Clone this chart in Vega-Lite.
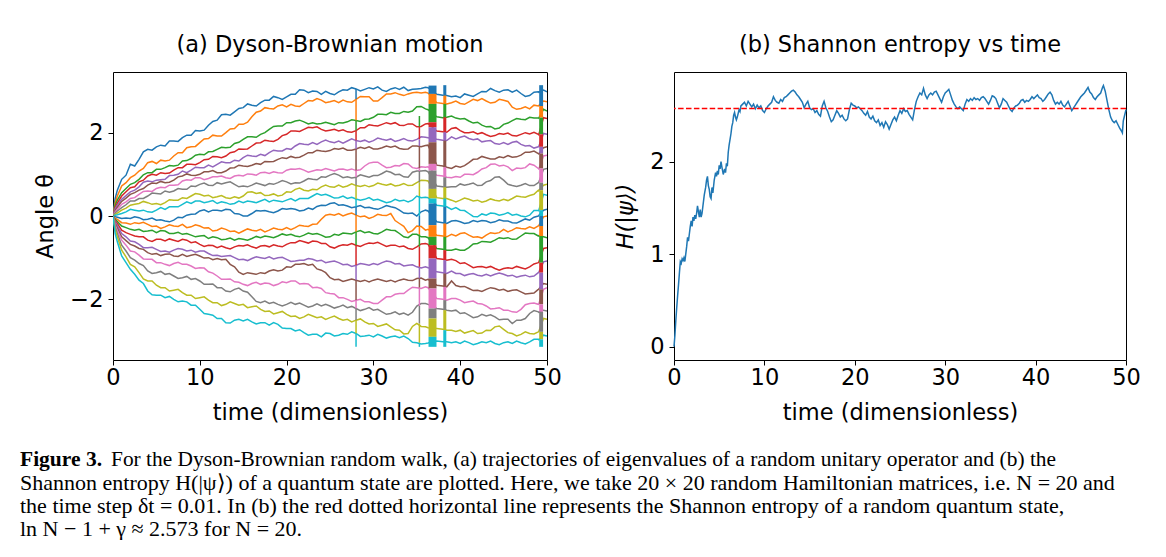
{
  "$schema": "https://vega.github.io/schema/vega-lite/v6.json",
  "background": "white",
  "padding": {"left": 20, "top": 33, "right": 5, "bottom": 0},
  "config": {
    "view": {"stroke": "black", "strokeWidth": 1},
    "axis": {"domain": false, "grid": false, "ticks": true, "tickColor": "black", "tickSize": 5, "tickWidth": 1,
             "labelFont": "DejaVu Sans", "labelFontSize": 22.5, "labelColor": "black",
             "labelFlush": false, "labelOverlap": false, "format": "d",
             "titleFont": "DejaVu Sans", "titleFontSize": 22.5, "titleFontWeight": "normal", "titleColor": "black"},
    "axisX": {"labelPadding": 1, "titlePadding": 13},
    "axisY": {"labelPadding": 5, "titlePadding": 12},
    "title": {"font": "DejaVu Sans", "fontSize": 22.5, "fontWeight": "normal", "color": "black", "offset": 15.5}
  },
  "datasets": {
    "traj": [
      {"time":0,"a":0,"b":0,"c":0,"d":0,"e":0,"f":0,"g":0,"h":0,"i":0,"j":0,"k":0,"l":0,"m":0,"n":0,"o":0,"p":0,"q":0,"r":0,"s":0,"t":0},
      {"time":0.25,"a":0.42,"b":0.32,"c":0.26,"d":0.21,"e":0.17,"f":0.13,"g":0.10,"h":0.07,"i":0.04,"j":0.02,"k":-0.02,"l":-0.05,"m":-0.08,"n":-0.11,"o":-0.14,"p":-0.18,"q":-0.22,"r":-0.27,"s":-0.33,"t":-0.42},
      {"time":0.5,"a":0.62,"b":0.48,"c":0.38,"d":0.31,"e":0.26,"f":0.21,"g":0.16,"h":0.12,"i":0.07,"j":0.03,"k":-0.03,"l":-0.08,"m":-0.13,"n":-0.18,"o":-0.23,"p":-0.29,"q":-0.35,"r":-0.42,"s":-0.50,"t":-0.62},
      {"time":1,"a":0.88,"b":0.72,"c":0.56,"d":0.48,"e":0.40,"f":0.35,"g":0.28,"h":0.20,"i":0.14,"j":0.06,"k":-0.06,"l":-0.16,"m":-0.24,"n":-0.34,"o":-0.42,"p":-0.50,"q":-0.58,"r":-0.70,"s":-0.82,"t":-0.96},
      {"time":1.5,"a":0.98,"b":0.80,"c":0.66,"d":0.58,"e":0.49,"f":0.43,"g":0.34,"h":0.27,"i":0.19,"j":0.10,"k":-0.05,"l":-0.17,"m":-0.28,"n":-0.40,"o":-0.50,"p":-0.59,"q":-0.70,"r":-0.84,"s":-0.98,"t":-1.12},
      {"time":2,"a":1.24,"b":0.92,"c":0.76,"d":0.68,"e":0.58,"f":0.52,"g":0.42,"h":0.36,"i":0.26,"j":0.16,"k":-0.06,"l":-0.20,"m":-0.32,"n":-0.44,"o":-0.60,"p":-0.68,"q":-0.84,"r":-1.00,"s":-1.16,"t":-1.28},
      {"time":2.5,"a":1.20,"b":0.98,"c":0.80,"d":0.70,"e":0.62,"f":0.56,"g":0.44,"h":0.36,"i":0.28,"j":0.14,"k":-0.02,"l":-0.16,"m":-0.34,"n":-0.48,"o":-0.62,"p":-0.72,"q":-0.86,"r":-1.06,"s":-1.22,"t":-1.40},
      {"time":3,"a":1.36,"b":1.08,"c":0.88,"d":0.82,"e":0.70,"f":0.62,"g":0.52,"h":0.42,"i":0.30,"j":0.12,"k":-0.04,"l":-0.18,"m":-0.32,"n":-0.50,"o":-0.68,"p":-0.78,"q":-0.94,"r":-1.14,"s":-1.36,"t":-1.54},
      {"time":3.5,"a":1.54,"b":1.14,"c":0.99,"d":0.86,"e":0.81,"f":0.66,"g":0.59,"h":0.42,"i":0.35,"j":0.14,"k":-0.09,"l":-0.15,"m":-0.37,"n":-0.50,"o":-0.76,"p":-0.80,"q":-1.03,"r":-1.19,"s":-1.51,"t":-1.62},
      {"time":4,"a":1.60,"b":1.28,"c":1.04,"d":0.96,"e":0.84,"f":0.74,"g":0.60,"h":0.48,"i":0.32,"j":0.10,"k":-0.08,"l":-0.20,"m":-0.36,"n":-0.58,"o":-0.76,"p":-0.88,"q":-1.04,"r":-1.32,"s":-1.56,"t":-1.80},
      {"time":4.5,"a":1.58,"b":1.31,"c":1.04,"d":1.00,"e":0.82,"f":0.79,"g":0.59,"h":0.55,"i":0.28,"j":0.09,"k":-0.05,"l":-0.25,"m":-0.34,"n":-0.61,"o":-0.75,"p":-0.92,"q":-1.04,"r":-1.38,"s":-1.56,"t":-1.89},
      {"time":5,"a":1.66,"b":1.26,"c":1.12,"d":0.98,"e":0.86,"f":0.78,"g":0.66,"h":0.54,"i":0.30,"j":0.14,"k":-0.10,"l":-0.24,"m":-0.40,"n":-0.56,"o":-0.80,"p":-0.90,"q":-1.12,"r":-1.36,"s":-1.66,"t":-1.90},
      {"time":5.5,"a":1.70,"b":1.34,"c":1.12,"d":1.04,"e":0.87,"f":0.83,"g":0.69,"h":0.53,"i":0.27,"j":0.20,"k":-0.09,"l":-0.30,"m":-0.35,"n":-0.56,"o":-0.85,"p":-0.95,"q":-1.12,"r":-1.33,"s":-1.72,"t":-1.90},
      {"time":6,"a":1.68,"b":1.32,"c":1.16,"d":1.02,"e":0.88,"f":0.80,"g":0.68,"h":0.60,"i":0.32,"j":0.16,"k":-0.12,"l":-0.26,"m":-0.36,"n":-0.60,"o":-0.84,"p":-0.92,"q":-1.16,"r":-1.40,"s":-1.72,"t":-1.96},
      {"time":6.5,"a":1.80,"b":1.34,"c":1.21,"d":1.03,"e":0.97,"f":0.81,"g":0.74,"h":0.57,"i":0.39,"j":0.22,"k":-0.14,"l":-0.21,"m":-0.42,"n":-0.55,"o":-0.87,"p":-0.91,"q":-1.19,"r":-1.38,"s":-1.80,"t":-1.93},
      {"time":7,"a":1.80,"b":1.44,"c":1.20,"d":1.10,"e":0.98,"f":0.86,"g":0.74,"h":0.60,"i":0.38,"j":0.22,"k":-0.10,"l":-0.24,"m":-0.42,"n":-0.58,"o":-0.82,"p":-0.96,"q":-1.14,"r":-1.44,"s":-1.78,"t":-2.00},
      {"time":7.5,"a":1.79,"b":1.52,"c":1.22,"d":1.16,"e":1.00,"f":0.94,"g":0.75,"h":0.66,"i":0.38,"j":0.22,"k":-0.03,"l":-0.25,"m":-0.39,"n":-0.61,"o":-0.78,"p":-0.97,"q":-1.11,"r":-1.50,"s":-1.76,"t":-2.06},
      {"time":8,"a":1.88,"b":1.52,"c":1.32,"d":1.16,"e":1.08,"f":0.96,"g":0.84,"h":0.64,"i":0.44,"j":0.28,"k":-0.04,"l":-0.20,"m":-0.44,"n":-0.56,"o":-0.80,"p":-0.92,"q":-1.16,"r":-1.48,"s":-1.84,"t":-2.04},
      {"time":8.5,"a":1.94,"b":1.64,"c":1.33,"d":1.24,"e":1.04,"f":1.01,"g":0.87,"h":0.64,"i":0.42,"j":0.34,"k":0.02,"l":-0.28,"m":-0.42,"n":-0.58,"o":-0.84,"p":-0.97,"q":-1.16,"r":-1.45,"s":-1.90,"t":-2.06},
      {"time":9,"a":1.94,"b":1.66,"c":1.38,"d":1.24,"e":1.10,"f":0.98,"g":0.86,"h":0.72,"i":0.48,"j":0.30,"k":0.04,"l":-0.26,"m":-0.46,"n":-0.64,"o":-0.82,"p":-0.94,"q":-1.20,"r":-1.52,"s":-1.90,"t":-2.14},
      {"time":9.5,"a":2.05,"b":1.67,"c":1.46,"d":1.23,"e":1.17,"f":0.97,"g":0.92,"h":0.71,"i":0.54,"j":0.36,"k":0.05,"l":-0.21,"m":-0.50,"n":-0.62,"o":-0.87,"p":-0.92,"q":-1.26,"r":-1.50,"s":-1.98,"t":-2.14},
      {"time":10,"a":2.04,"b":1.76,"c":1.48,"d":1.28,"e":1.16,"f":1.00,"g":0.92,"h":0.76,"i":0.52,"j":0.36,"k":0.12,"l":-0.24,"m":-0.48,"n":-0.68,"o":-0.84,"p":-0.96,"q":-1.24,"r":-1.56,"s":-1.96,"t":-2.24},
      {"time":10.5,"a":2.06,"b":1.85,"c":1.47,"d":1.35,"e":1.16,"f":1.06,"g":0.87,"h":0.79,"i":0.48,"j":0.32,"k":0.15,"l":-0.29,"m":-0.47,"n":-0.73,"o":-0.84,"p":-1.01,"q":-1.25,"r":-1.64,"s":-1.94,"t":-2.34},
      {"time":11,"a":2.18,"b":1.86,"c":1.54,"d":1.36,"e":1.22,"f":1.06,"g":0.90,"h":0.74,"i":0.50,"j":0.34,"k":0.10,"l":-0.28,"m":-0.54,"n":-0.70,"o":-0.90,"p":-1.00,"q":-1.34,"r":-1.64,"s":-2.02,"t":-2.36},
      {"time":11.5,"a":2.27,"b":1.94,"c":1.55,"d":1.43,"e":1.18,"f":1.09,"g":0.94,"h":0.73,"i":0.44,"j":0.37,"k":0.14,"l":-0.36,"m":-0.50,"n":-0.71,"o":-0.95,"p":-1.05,"q":-1.37,"r":-1.63,"s":-2.08,"t":-2.38},
      {"time":12,"a":2.30,"b":1.92,"c":1.60,"d":1.42,"e":1.24,"f":1.04,"g":0.94,"h":0.80,"i":0.46,"j":0.30,"k":0.14,"l":-0.34,"m":-0.52,"n":-0.76,"o":-0.94,"p":-1.02,"q":-1.44,"r":-1.72,"s":-2.08,"t":-2.46},
      {"time":12.5,"a":2.43,"b":1.92,"c":1.65,"d":1.40,"e":1.30,"f":1.04,"g":0.96,"h":0.77,"i":0.49,"j":0.34,"k":0.12,"l":-0.29,"m":-0.57,"n":-0.72,"o":-0.97,"p":-1.05,"q":-1.52,"r":-1.72,"s":-2.15,"t":-2.46},
      {"time":13,"a":2.44,"b":2.00,"c":1.64,"d":1.44,"e":1.28,"f":1.08,"g":0.92,"h":0.80,"i":0.44,"j":0.32,"k":0.16,"l":-0.32,"m":-0.56,"n":-0.76,"o":-0.96,"p":-1.04,"q":-1.52,"r":-1.80,"s":-2.12,"t":-2.56},
      {"time":13.5,"a":2.42,"b":2.09,"c":1.65,"d":1.52,"e":1.28,"f":1.15,"g":0.90,"h":0.82,"i":0.42,"j":0.28,"k":0.15,"l":-0.37,"m":-0.53,"n":-0.79,"o":-0.95,"p":-1.16,"q":-1.51,"r":-1.82,"s":-2.06,"t":-2.57},
      {"time":14,"a":2.50,"b":2.10,"c":1.74,"d":1.54,"e":1.34,"f":1.16,"g":0.96,"h":0.76,"i":0.46,"j":0.30,"k":0.06,"l":-0.36,"m":-0.58,"n":-0.74,"o":-1.00,"p":-1.22,"q":-1.58,"r":-1.76,"s":-2.10,"t":-2.50},
      {"time":14.5,"a":2.58,"b":2.20,"c":1.77,"d":1.61,"e":1.32,"f":1.22,"g":0.98,"h":0.70,"i":0.43,"j":0.36,"k":0.05,"l":-0.41,"m":-0.54,"n":-0.71,"o":-1.05,"p":-1.35,"q":-1.59,"r":-1.73,"s":-2.14,"t":-2.48},
      {"time":15,"a":2.60,"b":2.20,"c":1.84,"d":1.60,"e":1.40,"f":1.20,"g":0.96,"h":0.72,"i":0.48,"j":0.32,"k":0.00,"l":-0.36,"m":-0.56,"n":-0.72,"o":-1.04,"p":-1.40,"q":-1.64,"r":-1.80,"s":-2.12,"t":-2.52},
      {"time":15.5,"a":2.69,"b":2.25,"c":1.90,"d":1.61,"e":1.46,"f":1.19,"g":1.01,"h":0.70,"i":0.57,"j":0.36,"k":0.00,"l":-0.31,"m":-0.58,"n":-0.69,"o":-1.07,"p":-1.36,"q":-1.67,"r":-1.83,"s":-2.20,"t":-2.48},
      {"time":16,"a":2.66,"b":2.38,"c":1.90,"d":1.68,"e":1.44,"f":1.22,"g":1.00,"h":0.74,"i":0.58,"j":0.34,"k":0.06,"l":-0.34,"m":-0.54,"n":-0.74,"o":-1.02,"p":-1.38,"q":-1.62,"r":-1.94,"s":-2.18,"t":-2.54},
      {"time":16.5,"a":2.64,"b":2.49,"c":1.89,"d":1.75,"e":1.43,"f":1.26,"g":0.98,"h":0.79,"i":0.54,"j":0.32,"k":0.13,"l":-0.36,"m":-0.49,"n":-0.77,"o":-0.98,"p":-1.40,"q":-1.59,"r":-2.05,"s":-2.16,"t":-2.59},
      {"time":17,"a":2.72,"b":2.52,"c":1.96,"d":1.76,"e":1.48,"f":1.24,"g":1.04,"h":0.76,"i":0.56,"j":0.36,"k":0.12,"l":-0.32,"m":-0.52,"n":-0.72,"o":-1.00,"p":-1.36,"q":-1.64,"r":-2.08,"s":-2.24,"t":-2.56},
      {"time":17.5,"a":2.78,"b":2.60,"c":2.00,"d":1.82,"e":1.45,"f":1.31,"g":1.05,"h":0.73,"i":0.49,"j":0.40,"k":0.13,"l":-0.38,"m":-0.48,"n":-0.71,"o":-1.02,"p":-1.38,"q":-1.61,"r":-2.04,"s":-2.29,"t":-2.56},
      {"time":18,"a":2.78,"b":2.58,"c":2.08,"d":1.80,"e":1.52,"f":1.30,"g":1.02,"h":0.78,"i":0.50,"j":0.34,"k":0.10,"l":-0.34,"m":-0.50,"n":-0.74,"o":-0.98,"p":-1.32,"q":-1.62,"r":-2.10,"s":-2.28,"t":-2.62},
      {"time":18.5,"a":2.87,"b":2.57,"c":2.15,"d":1.79,"e":1.58,"f":1.31,"g":1.06,"h":0.76,"i":0.53,"j":0.38,"k":0.08,"l":-0.29,"m":-0.52,"n":-0.69,"o":-1.03,"p":-1.29,"q":-1.67,"r":-2.07,"s":-2.35,"t":-2.56},
      {"time":19,"a":2.84,"b":2.64,"c":2.16,"d":1.84,"e":1.56,"f":1.36,"g":1.04,"h":0.80,"i":0.48,"j":0.36,"k":0.12,"l":-0.32,"m":-0.48,"n":-0.72,"o":-1.00,"p":-1.32,"q":-1.64,"r":-2.12,"s":-2.32,"t":-2.60},
      {"time":19.5,"a":2.80,"b":2.67,"c":2.16,"d":1.93,"e":1.56,"f":1.40,"g":1.03,"h":0.85,"i":0.50,"j":0.34,"k":0.18,"l":-0.33,"m":-0.43,"n":-0.74,"o":-0.99,"p":-1.30,"q":-1.58,"r":-2.16,"s":-2.29,"t":-2.69},
      {"time":20,"a":2.86,"b":2.62,"c":2.24,"d":1.96,"e":1.62,"f":1.38,"g":1.10,"h":0.82,"i":0.58,"j":0.38,"k":0.16,"l":-0.28,"m":-0.46,"n":-0.68,"o":-1.04,"p":-1.22,"q":-1.60,"r":-2.12,"s":-2.36,"t":-2.70},
      {"time":20.5,"a":2.92,"b":2.68,"c":2.24,"d":2.04,"e":1.60,"f":1.43,"g":1.13,"h":0.77,"i":0.57,"j":0.42,"k":0.18,"l":-0.33,"m":-0.44,"n":-0.64,"o":-1.09,"p":-1.23,"q":-1.56,"r":-2.07,"s":-2.41,"t":-2.70},
      {"time":21,"a":2.92,"b":2.64,"c":2.28,"d":2.04,"e":1.68,"f":1.40,"g":1.12,"h":0.80,"i":0.64,"j":0.36,"k":0.16,"l":-0.28,"m":-0.48,"n":-0.64,"o":-1.08,"p":-1.16,"q":-1.56,"r":-2.12,"s":-2.40,"t":-2.76},
      {"time":21.5,"a":3.03,"b":2.63,"c":2.30,"d":2.03,"e":1.74,"f":1.41,"g":1.14,"h":0.79,"i":0.67,"j":0.42,"k":0.12,"l":-0.22,"m":-0.50,"n":-0.59,"o":-1.06,"p":-1.16,"q":-1.63,"r":-2.09,"s":-2.46,"t":-2.73},
      {"time":22,"a":3.02,"b":2.70,"c":2.26,"d":2.08,"e":1.72,"f":1.46,"g":1.10,"h":0.84,"i":0.62,"j":0.42,"k":0.14,"l":-0.24,"m":-0.46,"n":-0.62,"o":-1.06,"p":-1.14,"q":-1.62,"r":-2.14,"s":-2.42,"t":-2.80},
      {"time":22.5,"a":2.96,"b":2.77,"c":2.21,"d":2.13,"e":1.71,"f":1.52,"g":1.05,"h":0.90,"i":0.60,"j":0.42,"k":0.19,"l":-0.25,"m":-0.41,"n":-0.65,"o":-1.02,"p":-1.18,"q":-1.63,"r":-2.19,"s":-2.36,"t":-2.86},
      {"time":23,"a":3.00,"b":2.76,"c":2.24,"d":2.12,"e":1.76,"f":1.52,"g":1.08,"h":0.88,"i":0.64,"j":0.48,"k":0.16,"l":-0.20,"m":-0.44,"n":-0.60,"o":-1.04,"p":-1.16,"q":-1.72,"r":-2.16,"s":-2.40,"t":-2.84},
      {"time":23.5,"a":2.99,"b":2.82,"c":2.21,"d":2.14,"e":1.72,"f":1.58,"g":1.11,"h":0.87,"i":0.63,"j":0.54,"k":0.23,"l":-0.19,"m":-0.42,"n":-0.61,"o":-1.08,"p":-1.27,"q":-1.71,"r":-2.11,"s":-2.44,"t":-2.84},
      {"time":24,"a":2.92,"b":2.78,"c":2.22,"d":2.08,"e":1.78,"f":1.56,"g":1.10,"h":0.94,"i":0.70,"j":0.50,"k":0.26,"l":-0.08,"m":-0.46,"n":-0.66,"o":-1.06,"p":-1.30,"q":-1.74,"r":-2.16,"s":-2.42,"t":-2.90},
      {"time":24.5,"a":2.99,"b":2.72,"c":2.25,"d":2.04,"e":1.82,"f":1.55,"g":1.14,"h":0.93,"i":0.74,"j":0.52,"k":0.25,"l":0.02,"m":-0.51,"n":-0.66,"o":-1.12,"p":-1.36,"q":-1.84,"r":-2.12,"s":-2.48,"t":-2.81},
      {"time":25,"a":2.94,"b":2.74,"c":2.22,"d":2.06,"e":1.78,"f":1.57,"g":1.11,"h":0.98,"i":0.70,"j":0.48,"k":0.30,"l":0.04,"m":-0.50,"n":-0.74,"o":-1.10,"p":-1.48,"q":-1.86,"r":-2.16,"s":-2.44,"t":-2.82},
      {"time":25.5,"a":2.91,"b":2.77,"c":2.19,"d":2.08,"e":1.76,"f":1.62,"g":1.08,"h":1.02,"i":0.69,"j":0.43,"k":0.32,"l":0.02,"m":-0.44,"n":-0.77,"o":-1.08,"p":-1.53,"q":-1.87,"r":-2.21,"s":-2.40,"t":-2.88},
      {"time":26,"a":2.98,"b":2.72,"c":2.24,"d":2.04,"e":1.80,"f":1.60,"g":1.12,"h":0.98,"i":0.74,"j":0.44,"k":0.26,"l":0.06,"m":-0.46,"n":-0.72,"o":-1.12,"p":-1.52,"q":-1.96,"r":-2.18,"s":-2.46,"t":-2.86},
      {"time":26.5,"a":3.03,"b":2.78,"c":2.23,"d":2.07,"e":1.75,"f":1.63,"g":1.13,"h":0.92,"i":0.69,"j":0.48,"k":0.27,"l":0.00,"m":-0.41,"n":-0.69,"o":-1.17,"p":-1.57,"q":-1.96,"r":-2.14,"s":-2.50,"t":-2.82},
      {"time":27,"a":3.02,"b":2.74,"c":2.26,"d":2.02,"e":1.80,"f":1.58,"g":1.10,"h":0.94,"i":0.72,"j":0.42,"k":0.24,"l":0.04,"m":-0.42,"n":-0.70,"o":-1.16,"p":-1.54,"q":-2.00,"r":-2.20,"s":-2.48,"t":-2.84},
      {"time":27.5,"a":3.08,"b":2.73,"c":2.31,"d":2.01,"e":1.85,"f":1.58,"g":1.13,"h":0.91,"i":0.77,"j":0.45,"k":0.20,"l":0.07,"m":-0.43,"n":-0.66,"o":-1.21,"p":-1.51,"q":-2.05,"r":-2.17,"s":-2.54,"t":-2.78},
      {"time":28,"a":3.05,"b":2.80,"c":2.29,"d":2.05,"e":1.81,"f":1.61,"g":1.09,"h":0.93,"i":0.73,"j":0.41,"k":0.22,"l":0.02,"m":-0.38,"n":-0.70,"o":-1.18,"p":-1.54,"q":-2.02,"r":-2.22,"s":-2.50,"t":-2.82},
      {"time":28.5,"a":3.00,"b":2.87,"c":2.27,"d":2.12,"e":1.79,"f":1.65,"g":1.11,"h":0.99,"i":0.71,"j":0.38,"k":0.25,"l":-0.02,"m":-0.35,"n":-0.73,"o":-1.14,"p":-1.57,"q":-2.00,"r":-2.27,"s":-2.47,"t":-2.89},
      {"time":29,"a":3.04,"b":2.86,"c":2.32,"d":2.12,"e":1.82,"f":1.62,"g":1.20,"h":0.96,"i":0.74,"j":0.40,"k":0.20,"l":0.00,"m":-0.40,"n":-0.68,"o":-1.16,"p":-1.54,"q":-2.06,"r":-2.24,"s":-2.54,"t":-2.88},
      {"time":29.5,"a":3.08,"b":2.86,"c":2.33,"d":2.19,"e":1.77,"f":1.66,"g":1.27,"h":0.93,"i":0.70,"j":0.44,"k":0.21,"l":-0.06,"m":-0.38,"n":-0.65,"o":-1.18,"p":-1.58,"q":-2.06,"r":-2.20,"s":-2.59,"t":-2.86},
      {"time":30,"a":3.05,"b":2.76,"c":2.37,"d":2.17,"e":1.81,"f":1.61,"g":1.29,"h":0.97,"i":0.73,"j":0.38,"k":0.18,"l":-0.02,"m":-0.42,"n":-0.66,"o":-1.14,"p":-1.54,"q":-2.10,"r":-2.26,"s":-2.58,"t":-2.90},
      {"time":30.5,"a":3.10,"b":2.76,"c":2.44,"d":2.16,"e":1.87,"f":1.61,"g":1.29,"h":0.97,"i":0.79,"j":0.40,"k":0.16,"l":0.04,"m":-0.43,"n":-0.63,"o":-1.17,"p":-1.51,"q":-2.10,"r":-2.24,"s":-2.65,"t":-2.84},
      {"time":31,"a":3.02,"b":2.84,"c":2.44,"d":2.20,"e":1.84,"f":1.64,"g":1.22,"h":1.02,"i":0.76,"j":0.36,"k":0.20,"l":0.02,"m":-0.38,"n":-0.68,"o":-1.12,"p":-1.54,"q":-2.02,"r":-2.30,"s":-2.62,"t":-2.88},
      {"time":31.5,"a":2.99,"b":2.93,"c":2.43,"d":2.24,"e":1.82,"f":1.68,"g":1.16,"h":1.08,"i":0.74,"j":0.32,"k":0.25,"l":0.01,"m":-0.32,"n":-0.73,"o":-1.08,"p":-1.57,"q":-1.94,"r":-2.36,"s":-2.59,"t":-2.93},
      {"time":32,"a":3.05,"b":2.93,"c":2.49,"d":2.21,"e":1.85,"f":1.65,"g":1.17,"h":1.05,"i":0.77,"j":0.34,"k":0.22,"l":0.06,"m":-0.34,"n":-0.70,"o":-1.10,"p":-1.54,"q":-1.94,"r":-2.34,"s":-2.66,"t":-2.90},
      {"time":32.5,"a":3.08,"b":2.96,"c":2.46,"d":2.24,"e":1.79,"f":1.68,"g":1.21,"h":0.99,"i":0.72,"j":0.40,"k":0.20,"l":-0.11,"m":-0.35,"n":-0.70,"o":-1.15,"p":-1.58,"q":-1.88,"r":-2.30,"s":-2.73,"t":-2.88},
      {"time":33,"a":3.04,"b":2.92,"c":2.46,"d":2.18,"e":1.82,"f":1.62,"g":1.20,"h":1.00,"i":0.74,"j":0.36,"k":0.14,"l":-0.18,"m":-0.42,"n":-0.74,"o":-1.14,"p":-1.54,"q":-1.86,"r":-2.36,"s":-2.74,"t":-2.92},
      {"time":33.5,"a":3.09,"b":2.89,"c":2.51,"d":2.17,"e":1.86,"f":1.60,"g":1.26,"h":0.94,"i":0.78,"j":0.38,"k":0.07,"l":-0.25,"m":-0.50,"n":-0.72,"o":-1.20,"p":-1.51,"q":-1.86,"r":-2.33,"s":-2.83,"t":-2.88},
      {"time":34,"a":3.01,"b":2.93,"c":2.49,"d":2.21,"e":1.81,"f":1.61,"g":1.25,"h":0.93,"i":0.73,"j":0.34,"k":0.06,"l":-0.40,"m":-0.52,"n":-0.78,"o":-1.18,"p":-1.54,"q":-1.78,"r":-2.38,"s":-2.82,"t":-2.94},
      {"time":34.5,"a":3.04,"b":2.96,"c":2.52,"d":2.21,"e":1.80,"f":1.68,"g":1.16,"h":1.05,"i":0.74,"j":0.38,"k":0.07,"l":-0.35,"m":-0.44,"n":-0.80,"o":-1.17,"p":-1.55,"q":-1.71,"r":-2.31,"s":-2.65,"t":-3.03},
      {"time":35,"a":3.05,"b":2.97,"c":2.62,"d":2.14,"e":1.84,"f":1.68,"g":1.14,"h":1.08,"i":0.80,"j":0.48,"k":0.00,"l":-0.24,"m":-0.44,"n":-0.74,"o":-1.22,"p":-1.50,"q":-1.72,"r":-2.16,"s":-2.58,"t":-3.04},
      {"time":35.5,"a":3.06,"b":2.95,"c":2.63,"d":2.15,"e":1.90,"f":1.66,"g":1.18,"h":1.08,"i":0.86,"j":0.44,"k":0.10,"l":-0.25,"m":-0.50,"n":-0.67,"o":-1.25,"p":-1.49,"q":-1.74,"r":-2.10,"s":-2.65,"t":-3.07},
      {"time":36,"a":3.09,"b":2.97,"c":2.57,"d":2.21,"e":1.89,"f":1.69,"g":1.17,"h":1.09,"i":0.85,"j":0.45,"k":0.14,"l":-0.34,"m":-0.50,"n":-0.66,"o":-1.22,"p":-1.54,"q":-1.70,"r":-2.10,"s":-2.66,"t":-3.06},
      {"time":36.3,"a":3.08,"b":2.95,"c":2.55,"d":2.22,"e":1.88,"f":1.70,"g":1.18,"h":1.06,"i":0.84,"j":0.44,"k":0.12,"l":-0.32,"m":-0.52,"n":-0.68,"o":-1.24,"p":-1.52,"q":-1.72,"r":-2.12,"s":-2.68,"t":-3.05},
      {"time":37.3,"a":2.92,"b":2.72,"c":2.38,"d":2.04,"e":1.84,"f":1.22,"g":0.98,"h":0.72,"i":0.44,"j":0.26,"k":-0.14,"l":-0.46,"m":-0.78,"n":-1.02,"o":-1.34,"p":-1.66,"q":-1.98,"r":-2.22,"s":-2.70,"t":-3.00},
      {"time":38,"a":2.90,"b":2.70,"c":2.36,"d":2.02,"e":1.82,"f":1.20,"g":0.96,"h":0.70,"i":0.42,"j":0.24,"k":-0.16,"l":-0.48,"m":-0.80,"n":-1.04,"o":-1.36,"p":-1.68,"q":-2.00,"r":-2.24,"s":-2.72,"t":-3.02},
      {"time":38.45,"a":2.89,"b":2.69,"c":2.37,"d":2.01,"e":1.81,"f":1.17,"g":0.93,"h":0.69,"i":0.42,"j":0.22,"k":-0.18,"l":-0.50,"m":-0.82,"n":-1.06,"o":-1.38,"p":-1.70,"q":-2.02,"r":-2.26,"s":-2.74,"t":-3.02},
      {"time":39,"a":2.86,"b":2.72,"c":2.40,"d":2.10,"e":1.90,"f":1.14,"g":0.92,"h":0.70,"i":0.38,"j":0.16,"k":-0.12,"l":-0.44,"m":-0.82,"n":-1.04,"o":-1.32,"p":-1.56,"q":-1.98,"r":-2.28,"s":-2.74,"t":-3.04},
      {"time":39.5,"a":2.88,"b":2.76,"c":2.35,"d":2.12,"e":1.85,"f":1.20,"g":0.95,"h":0.70,"i":0.34,"j":0.20,"k":-0.11,"l":-0.48,"m":-0.79,"n":-1.07,"o":-1.38,"p":-1.67,"q":-1.98,"r":-2.26,"s":-2.77,"t":-3.02},
      {"time":40,"a":2.84,"b":2.70,"c":2.33,"d":2.05,"e":1.89,"f":1.17,"g":0.93,"h":0.77,"i":0.38,"j":0.14,"k":-0.14,"l":-0.42,"m":-0.82,"n":-1.14,"o":-1.38,"p":-1.70,"q":-2.02,"r":-2.34,"s":-2.74,"t":-3.06},
      {"time":40.5,"a":2.93,"b":2.68,"c":2.34,"d":2.00,"e":1.92,"f":1.21,"g":1.00,"h":0.74,"i":0.43,"j":0.13,"k":-0.18,"l":-0.40,"m":-0.82,"n":-1.12,"o":-1.43,"p":-1.69,"q":-2.08,"r":-2.32,"s":-2.81,"t":-3.00},
      {"time":41,"a":2.90,"b":2.74,"c":2.28,"d":2.00,"e":1.86,"f":1.28,"g":1.00,"h":0.76,"i":0.40,"j":0.06,"k":-0.16,"l":-0.46,"m":-0.76,"n":-1.18,"o":-1.40,"p":-1.74,"q":-2.06,"r":-2.38,"s":-2.78,"t":-3.04},
      {"time":41.5,"a":2.87,"b":2.80,"c":2.23,"d":2.02,"e":1.83,"f":1.36,"g":0.99,"h":0.79,"i":0.36,"j":-0.01,"k":-0.11,"l":-0.51,"m":-0.67,"n":-1.24,"o":-1.38,"p":-1.79,"q":-2.04,"r":-2.44,"s":-2.75,"t":-3.09},
      {"time":42,"a":2.93,"b":2.77,"c":2.25,"d":1.97,"e":1.85,"f":1.37,"g":1.05,"h":0.73,"i":0.38,"j":-0.02,"k":-0.14,"l":-0.50,"m":-0.66,"n":-1.22,"o":-1.42,"p":-1.78,"q":-2.10,"r":-2.42,"s":-2.82,"t":-3.06},
      {"time":42.5,"a":2.99,"b":2.82,"c":2.18,"d":2.00,"e":1.78,"f":1.43,"g":1.13,"h":0.74,"i":0.33,"j":0.05,"k":-0.11,"l":-0.53,"m":-0.61,"n":-1.21,"o":-1.44,"p":-1.81,"q":-2.11,"r":-2.36,"s":-2.81,"t":-3.02},
      {"time":43,"a":2.98,"b":2.76,"c":2.14,"d":1.95,"e":1.80,"f":1.40,"g":1.16,"h":0.82,"i":0.36,"j":0.02,"k":-0.12,"l":-0.46,"m":-0.62,"n":-1.24,"o":-1.40,"p":-1.76,"q":-2.16,"r":-2.40,"s":-2.74,"t":-3.04},
      {"time":43.5,"a":3.06,"b":2.71,"c":2.15,"d":1.91,"e":1.81,"f":1.37,"g":1.24,"h":0.85,"i":0.41,"j":0.07,"k":-0.16,"l":-0.40,"m":-0.63,"n":-1.21,"o":-1.44,"p":-1.72,"q":-2.23,"r":-2.37,"s":-2.75,"t":-3.00},
      {"time":44,"a":3.01,"b":2.73,"c":2.09,"d":1.93,"e":1.74,"f":1.37,"g":1.25,"h":0.93,"i":0.38,"j":0.06,"k":-0.14,"l":-0.42,"m":-0.58,"n":-1.26,"o":-1.40,"p":-1.74,"q":-2.22,"r":-2.42,"s":-2.66,"t":-3.06},
      {"time":44.5,"a":2.97,"b":2.80,"c":2.11,"d":1.98,"e":1.72,"f":1.42,"g":1.20,"h":0.94,"i":0.36,"j":0.02,"k":-0.09,"l":-0.40,"m":-0.52,"n":-1.30,"o":-1.37,"p":-1.78,"q":-2.20,"r":-2.49,"s":-2.64,"t":-3.09},
      {"time":45,"a":3.02,"b":2.78,"c":2.20,"d":1.96,"e":1.76,"f":1.40,"g":1.22,"h":0.86,"i":0.40,"j":0.04,"k":-0.12,"l":-0.32,"m":-0.54,"n":-1.26,"o":-1.40,"p":-1.76,"q":-2.26,"r":-2.48,"s":-2.72,"t":-3.04},
      {"time":45.5,"a":3.03,"b":2.75,"c":2.23,"d":1.99,"e":1.72,"f":1.45,"g":1.18,"h":0.76,"i":0.37,"j":0.08,"k":-0.12,"l":-0.38,"m":-0.52,"n":-1.24,"o":-1.44,"p":-1.81,"q":-2.26,"r":-2.48,"s":-2.80,"t":-3.02},
      {"time":46,"a":2.97,"b":2.61,"c":2.29,"d":1.93,"e":1.77,"f":1.41,"g":1.09,"h":0.73,"i":0.42,"j":0.02,"k":-0.16,"l":-0.34,"m":-0.56,"n":-1.26,"o":-1.42,"p":-1.78,"q":-2.30,"r":-2.58,"s":-2.82,"t":-3.06},
      {"time":46.5,"a":3.02,"b":2.56,"c":2.34,"d":1.92,"e":1.79,"f":1.42,"g":1.15,"h":0.71,"i":0.48,"j":0.04,"k":-0.17,"l":-0.28,"m":-0.55,"n":-1.21,"o":-1.47,"p":-1.77,"q":-2.31,"r":-2.50,"s":-2.88,"t":-3.00},
      {"time":47,"a":2.94,"b":2.58,"c":2.32,"d":1.96,"e":1.72,"f":1.46,"g":1.14,"h":0.74,"i":0.46,"j":0.00,"k":-0.12,"l":-0.30,"m":-0.48,"n":-1.24,"o":-1.44,"p":-1.82,"q":-2.24,"r":-2.50,"s":-2.84,"t":-3.04},
      {"time":47.5,"a":2.87,"b":2.62,"c":2.31,"d":2.00,"e":1.68,"f":1.53,"g":1.16,"h":0.78,"i":0.45,"j":-0.02,"k":-0.07,"l":-0.31,"m":-0.41,"n":-1.27,"o":-1.42,"p":-1.87,"q":-2.13,"r":-2.46,"s":-2.78,"t":-3.07},
      {"time":48,"a":2.89,"b":2.57,"c":2.37,"d":1.97,"e":1.69,"f":1.53,"g":1.25,"h":0.73,"i":0.49,"j":0.02,"k":-0.10,"l":-0.26,"m":-0.42,"n":-1.22,"o":-1.46,"p":-1.86,"q":-2.10,"r":-2.34,"s":-2.82,"t":-3.02},
      {"time":48.5,"a":2.97,"b":2.66,"c":2.35,"d":2.01,"e":1.63,"f":1.56,"g":1.22,"h":0.73,"i":0.52,"j":0.13,"k":-0.03,"l":-0.30,"m":-0.42,"n":-1.15,"o":-1.44,"p":-1.85,"q":-2.09,"r":-2.27,"s":-2.83,"t":-2.96},
      {"time":49,"a":2.98,"b":2.64,"c":2.36,"d":1.96,"e":1.66,"f":1.50,"g":1.14,"h":0.80,"i":0.62,"j":0.14,"k":0.00,"l":-0.24,"m":-0.48,"n":-1.12,"o":-1.36,"p":-1.76,"q":-2.12,"r":-2.30,"s":-2.78,"t":-2.96},
      {"time":49.05,"a":2.97,"b":2.65,"c":2.35,"d":1.95,"e":1.67,"f":1.49,"g":1.13,"h":0.81,"i":0.61,"j":0.13,"k":0.01,"l":-0.23,"m":-0.47,"n":-1.11,"o":-1.35,"p":-1.75,"q":-2.11,"r":-2.31,"s":-2.77,"t":-2.97},
      {"time":49.6,"a":3.02,"b":2.76,"c":2.56,"d":2.36,"e":1.98,"f":1.64,"g":1.44,"h":1.12,"i":0.74,"j":0.52,"k":0.14,"l":-0.02,"m":-0.50,"n":-0.78,"o":-1.10,"p":-1.62,"q":-1.76,"r":-2.26,"s":-2.46,"t":-2.86},
      {"time":50,"a":2.98,"b":2.74,"c":2.52,"d":2.34,"e":1.96,"f":1.66,"g":1.46,"h":1.14,"i":0.76,"j":0.50,"k":0.16,"l":0.00,"m":-0.52,"n":-0.76,"o":-1.08,"p":-1.64,"q":-1.72,"r":-2.28,"s":-2.48,"t":-2.88}
    ],
    "bands": [
      {"t0":36.35,"t1":37.27,"series":"a","lo":2.93,"hi":3.13},{"t0":36.35,"t1":37.27,"series":"b","lo":2.69,"hi":2.93},
      {"t0":36.35,"t1":37.27,"series":"c","lo":2.25,"hi":2.69},{"t0":36.35,"t1":37.27,"series":"d","lo":2.13,"hi":2.25},
      {"t0":36.35,"t1":37.27,"series":"e","lo":1.77,"hi":2.13},{"t0":36.35,"t1":37.27,"series":"f","lo":1.25,"hi":1.77},
      {"t0":36.35,"t1":37.27,"series":"g","lo":1.09,"hi":1.25},{"t0":36.35,"t1":37.27,"series":"h","lo":0.65,"hi":1.09},
      {"t0":36.35,"t1":37.27,"series":"i","lo":0.42,"hi":0.65},{"t0":36.35,"t1":37.27,"series":"j","lo":0.30,"hi":0.42},
      {"t0":36.35,"t1":37.27,"series":"k","lo":-0.22,"hi":0.30},{"t0":36.35,"t1":37.27,"series":"l","lo":-0.50,"hi":-0.22},
      {"t0":36.35,"t1":37.27,"series":"m","lo":-0.70,"hi":-0.50},{"t0":36.35,"t1":37.27,"series":"n","lo":-1.02,"hi":-0.70},
      {"t0":36.35,"t1":37.27,"series":"o","lo":-1.50,"hi":-1.02},{"t0":36.35,"t1":37.27,"series":"p","lo":-1.74,"hi":-1.50},
      {"t0":36.35,"t1":37.27,"series":"q","lo":-2.22,"hi":-1.74},{"t0":36.35,"t1":37.27,"series":"r","lo":-2.46,"hi":-2.22},
      {"t0":36.35,"t1":37.27,"series":"s","lo":-2.90,"hi":-2.46},{"t0":36.35,"t1":37.27,"series":"t","lo":-3.14,"hi":-2.90},
      {"t0":38.05,"t1":38.4,"series":"a","lo":2.89,"hi":3.14},{"t0":38.05,"t1":38.4,"series":"b","lo":2.69,"hi":2.89},
      {"t0":38.05,"t1":38.4,"series":"c","lo":2.37,"hi":2.69},{"t0":38.05,"t1":38.4,"series":"d","lo":2.01,"hi":2.37},
      {"t0":38.05,"t1":38.4,"series":"e","lo":1.81,"hi":2.01},{"t0":38.05,"t1":38.4,"series":"f","lo":1.17,"hi":1.81},
      {"t0":38.05,"t1":38.4,"series":"g","lo":0.93,"hi":1.17},{"t0":38.05,"t1":38.4,"series":"h","lo":0.69,"hi":0.93},
      {"t0":38.05,"t1":38.4,"series":"i","lo":0.42,"hi":0.69},{"t0":38.05,"t1":38.4,"series":"j","lo":0.22,"hi":0.42},
      {"t0":38.05,"t1":38.4,"series":"k","lo":-0.18,"hi":0.22},{"t0":38.05,"t1":38.4,"series":"l","lo":-0.50,"hi":-0.18},
      {"t0":38.05,"t1":38.4,"series":"m","lo":-0.82,"hi":-0.50},{"t0":38.05,"t1":38.4,"series":"n","lo":-1.06,"hi":-0.82},
      {"t0":38.05,"t1":38.4,"series":"o","lo":-1.38,"hi":-1.06},{"t0":38.05,"t1":38.4,"series":"p","lo":-1.70,"hi":-1.38},
      {"t0":38.05,"t1":38.4,"series":"q","lo":-2.02,"hi":-1.70},{"t0":38.05,"t1":38.4,"series":"r","lo":-2.26,"hi":-2.02},
      {"t0":38.05,"t1":38.4,"series":"s","lo":-2.74,"hi":-2.26},{"t0":38.05,"t1":38.4,"series":"t","lo":-3.14,"hi":-2.74},
      {"t0":49.1,"t1":49.55,"series":"a","lo":2.64,"hi":3.14},{"t0":49.1,"t1":49.55,"series":"b","lo":2.36,"hi":2.64},
      {"t0":49.1,"t1":49.55,"series":"c","lo":1.96,"hi":2.36},{"t0":49.1,"t1":49.55,"series":"d","lo":1.66,"hi":1.96},
      {"t0":49.1,"t1":49.55,"series":"e","lo":1.50,"hi":1.66},{"t0":49.1,"t1":49.55,"series":"f","lo":1.14,"hi":1.50},
      {"t0":49.1,"t1":49.55,"series":"g","lo":0.80,"hi":1.14},{"t0":49.1,"t1":49.55,"series":"h","lo":0.62,"hi":0.80},
      {"t0":49.1,"t1":49.55,"series":"i","lo":0.14,"hi":0.62},{"t0":49.1,"t1":49.55,"series":"j","lo":0.00,"hi":0.14},
      {"t0":49.1,"t1":49.55,"series":"k","lo":-0.24,"hi":0.00},{"t0":49.1,"t1":49.55,"series":"l","lo":-0.48,"hi":-0.24},
      {"t0":49.1,"t1":49.55,"series":"m","lo":-1.12,"hi":-0.48},{"t0":49.1,"t1":49.55,"series":"n","lo":-1.36,"hi":-1.12},
      {"t0":49.1,"t1":49.55,"series":"o","lo":-1.76,"hi":-1.36},{"t0":49.1,"t1":49.55,"series":"p","lo":-2.12,"hi":-1.76},
      {"t0":49.1,"t1":49.55,"series":"q","lo":-2.30,"hi":-2.12},{"t0":49.1,"t1":49.55,"series":"r","lo":-2.78,"hi":-2.30},
      {"t0":49.1,"t1":49.55,"series":"s","lo":-2.96,"hi":-2.78},{"t0":49.1,"t1":49.55,"series":"t","lo":-3.14,"hi":-2.96}
    ],
    "spikes": [
      {"time":28,"series":"a","lo":2.80,"hi":3.05},{"time":28,"series":"b","lo":2.29,"hi":2.80},
      {"time":28,"series":"c","lo":2.05,"hi":2.29},{"time":28,"series":"d","lo":1.81,"hi":2.05},
      {"time":28,"series":"e","lo":1.61,"hi":1.81},{"time":28,"series":"f","lo":1.09,"hi":1.61},
      {"time":28,"series":"g","lo":0.93,"hi":1.09},{"time":28,"series":"h","lo":0.73,"hi":0.93},
      {"time":28,"series":"i","lo":0.41,"hi":0.73},{"time":28,"series":"j","lo":0.22,"hi":0.41},
      {"time":28,"series":"k","lo":0.02,"hi":0.22},{"time":28,"series":"l","lo":-0.38,"hi":0.02},
      {"time":28,"series":"m","lo":-0.70,"hi":-0.38},{"time":28,"series":"n","lo":-1.18,"hi":-0.70},
      {"time":28,"series":"o","lo":-1.54,"hi":-1.18},{"time":28,"series":"p","lo":-2.02,"hi":-1.54},
      {"time":28,"series":"q","lo":-2.22,"hi":-2.02},{"time":28,"series":"r","lo":-2.50,"hi":-2.22},
      {"time":28,"series":"s","lo":-2.82,"hi":-2.50},{"time":28,"series":"t","lo":-3.14,"hi":-2.82},
      {"time":35.3,"series":"c","lo":2.14,"hi":2.40},{"time":35.3,"series":"d","lo":1.84,"hi":2.14},
      {"time":35.3,"series":"e","lo":1.68,"hi":1.84},{"time":35.3,"series":"f","lo":1.14,"hi":1.68},
      {"time":35.3,"series":"g","lo":1.08,"hi":1.14},{"time":35.3,"series":"h","lo":0.80,"hi":1.08},
      {"time":35.3,"series":"i","lo":0.48,"hi":0.80},{"time":35.3,"series":"j","lo":0.00,"hi":0.48},
      {"time":35.3,"series":"k","lo":-0.24,"hi":0.00},{"time":35.3,"series":"l","lo":-0.44,"hi":-0.24},
      {"time":35.3,"series":"m","lo":-0.74,"hi":-0.44},{"time":35.3,"series":"n","lo":-1.22,"hi":-0.74},
      {"time":35.3,"series":"o","lo":-1.50,"hi":-1.22},{"time":35.3,"series":"p","lo":-1.72,"hi":-1.50},
      {"time":35.3,"series":"q","lo":-2.16,"hi":-1.72},{"time":35.3,"series":"r","lo":-2.58,"hi":-2.16},
      {"time":35.3,"series":"s","lo":-3.04,"hi":-2.58},{"time":35.3,"series":"t","lo":-3.14,"hi":-3.04}
    ],
    "ent": [
      {"t":0,"h":0},{"t":0.1,"h":0.12},{"t":0.2,"h":0.28},{"t":0.3,"h":0.42},{"t":0.4,"h":0.55},{"t":0.5,"h":0.67},{"t":0.6,"h":0.8},{"t":0.7,"h":0.92},{"t":0.8,"h":0.9},{"t":0.9,"h":0.95},
      {"t":1.0,"h":0.93},{"t":1.1,"h":0.96},{"t":1.2,"h":0.92},{"t":1.3,"h":1.0},{"t":1.4,"h":1.08},{"t":1.5,"h":1.18},{"t":1.6,"h":1.14},{"t":1.7,"h":1.22},{"t":1.8,"h":1.3},{"t":1.9,"h":1.36},
      {"t":2.0,"h":1.3},{"t":2.1,"h":1.4},{"t":2.2,"h":1.36},{"t":2.3,"h":1.42},{"t":2.4,"h":1.38},{"t":2.5,"h":1.44},{"t":2.6,"h":1.52},{"t":2.7,"h":1.46},{"t":2.8,"h":1.4},{"t":2.9,"h":1.48},
      {"t":3.0,"h":1.4},{"t":3.1,"h":1.44},{"t":3.2,"h":1.52},{"t":3.35,"h":1.64},{"t":3.5,"h":1.72},{"t":3.6,"h":1.8},{"t":3.7,"h":1.84},{"t":3.8,"h":1.74},{"t":3.9,"h":1.7},{"t":4.0,"h":1.62},
      {"t":4.1,"h":1.6},{"t":4.2,"h":1.72},{"t":4.3,"h":1.66},{"t":4.45,"h":1.8},{"t":4.6,"h":1.88},{"t":4.7,"h":1.84},{"t":4.8,"h":1.9},{"t":4.9,"h":1.86},{"t":5.0,"h":1.96},{"t":5.1,"h":1.92},
      {"t":5.2,"h":2.0},{"t":5.3,"h":1.94},{"t":5.45,"h":1.86},{"t":5.6,"h":1.92},{"t":5.7,"h":1.88},{"t":5.8,"h":1.98},{"t":5.9,"h":1.95},{"t":6.0,"h":2.1},{"t":6.1,"h":2.18},{"t":6.2,"h":2.24},
      {"t":6.3,"h":2.3},{"t":6.4,"h":2.38},{"t":6.5,"h":2.42},{"t":6.6,"h":2.5},{"t":6.7,"h":2.53},{"t":6.8,"h":2.48},{"t":6.9,"h":2.45},{"t":7.0,"h":2.48},{"t":7.1,"h":2.52},{"t":7.2,"h":2.56},
      {"t":7.3,"h":2.54},{"t":7.4,"h":2.6},{"t":7.6,"h":2.62},{"t":7.8,"h":2.64},{"t":8.0,"h":2.6},{"t":8.2,"h":2.65},{"t":8.4,"h":2.62},{"t":8.6,"h":2.59},{"t":8.8,"h":2.62},{"t":9.0,"h":2.57},
      {"t":9.2,"h":2.61},{"t":9.4,"h":2.58},{"t":9.6,"h":2.6},{"t":9.8,"h":2.55},{"t":10.0,"h":2.53},{"t":10.2,"h":2.57},{"t":10.4,"h":2.6},{"t":10.6,"h":2.62},{"t":10.8,"h":2.64},{"t":11.0,"h":2.7},
      {"t":11.2,"h":2.66},{"t":11.4,"h":2.64},{"t":11.6,"h":2.63},{"t":11.8,"h":2.67},{"t":12.0,"h":2.65},{"t":12.2,"h":2.69},{"t":12.4,"h":2.7},{"t":12.6,"h":2.72},{"t":12.8,"h":2.74},{"t":13.0,"h":2.76},
      {"t":13.2,"h":2.77},{"t":13.4,"h":2.75},{"t":13.6,"h":2.72},{"t":13.8,"h":2.7},{"t":14.0,"h":2.67},{"t":14.2,"h":2.64},{"t":14.4,"h":2.58},{"t":14.6,"h":2.62},{"t":14.8,"h":2.65},{"t":15.0,"h":2.58},
      {"t":15.2,"h":2.56},{"t":15.4,"h":2.57},{"t":15.6,"h":2.53},{"t":15.8,"h":2.55},{"t":16.0,"h":2.51},{"t":16.2,"h":2.49},{"t":16.4,"h":2.6},{"t":16.6,"h":2.65},{"t":16.8,"h":2.58},{"t":17.0,"h":2.54},
      {"t":17.2,"h":2.48},{"t":17.4,"h":2.43},{"t":17.6,"h":2.45},{"t":17.8,"h":2.5},{"t":18.0,"h":2.55},{"t":18.2,"h":2.52},{"t":18.4,"h":2.48},{"t":18.6,"h":2.5},{"t":18.8,"h":2.46},{"t":19.0,"h":2.44},
      {"t":19.2,"h":2.46},{"t":19.4,"h":2.56},{"t":19.6,"h":2.63},{"t":19.8,"h":2.61},{"t":20.0,"h":2.6},{"t":20.2,"h":2.58},{"t":20.4,"h":2.59},{"t":20.6,"h":2.57},{"t":20.8,"h":2.55},{"t":21.0,"h":2.52},
      {"t":21.2,"h":2.5},{"t":21.4,"h":2.54},{"t":21.6,"h":2.48},{"t":21.8,"h":2.46},{"t":22.0,"h":2.49},{"t":22.2,"h":2.44},{"t":22.4,"h":2.42},{"t":22.6,"h":2.45},{"t":22.8,"h":2.39},{"t":23.0,"h":2.42},
      {"t":23.2,"h":2.37},{"t":23.4,"h":2.43},{"t":23.6,"h":2.4},{"t":23.8,"h":2.35},{"t":24.0,"h":2.4},{"t":24.2,"h":2.45},{"t":24.4,"h":2.48},{"t":24.6,"h":2.44},{"t":24.8,"h":2.5},{"t":25.0,"h":2.55},
      {"t":25.2,"h":2.52},{"t":25.4,"h":2.57},{"t":25.6,"h":2.54},{"t":25.8,"h":2.55},{"t":26.0,"h":2.51},{"t":26.2,"h":2.48},{"t":26.4,"h":2.45},{"t":26.6,"h":2.56},{"t":26.8,"h":2.65},{"t":27.0,"h":2.7},
      {"t":27.2,"h":2.74},{"t":27.4,"h":2.72},{"t":27.6,"h":2.79},{"t":27.8,"h":2.72},{"t":28.0,"h":2.68},{"t":28.2,"h":2.72},{"t":28.4,"h":2.74},{"t":28.6,"h":2.72},{"t":28.8,"h":2.75},{"t":29.0,"h":2.76},
      {"t":29.2,"h":2.72},{"t":29.4,"h":2.68},{"t":29.6,"h":2.64},{"t":29.8,"h":2.7},{"t":30.0,"h":2.74},{"t":30.2,"h":2.76},{"t":30.4,"h":2.78},{"t":30.6,"h":2.72},{"t":30.8,"h":2.66},{"t":31.0,"h":2.62},
      {"t":31.2,"h":2.59},{"t":31.4,"h":2.57},{"t":31.6,"h":2.59},{"t":31.8,"h":2.57},{"t":32.0,"h":2.55},{"t":32.2,"h":2.62},{"t":32.4,"h":2.67},{"t":32.6,"h":2.65},{"t":32.8,"h":2.68},{"t":33.0,"h":2.66},
      {"t":33.2,"h":2.69},{"t":33.4,"h":2.67},{"t":33.6,"h":2.68},{"t":33.8,"h":2.66},{"t":34.0,"h":2.69},{"t":34.2,"h":2.7},{"t":34.4,"h":2.68},{"t":34.6,"h":2.65},{"t":34.8,"h":2.62},{"t":35.0,"h":2.66},
      {"t":35.2,"h":2.71},{"t":35.4,"h":2.7},{"t":35.6,"h":2.68},{"t":35.8,"h":2.63},{"t":36.0,"h":2.58},{"t":36.2,"h":2.62},{"t":36.4,"h":2.68},{"t":36.6,"h":2.66},{"t":36.8,"h":2.64},{"t":37.0,"h":2.6},
      {"t":37.2,"h":2.56},{"t":37.4,"h":2.54},{"t":37.6,"h":2.58},{"t":37.8,"h":2.6},{"t":38.0,"h":2.61},{"t":38.2,"h":2.63},{"t":38.4,"h":2.66},{"t":38.6,"h":2.67},{"t":38.8,"h":2.64},{"t":39.0,"h":2.66},
      {"t":39.2,"h":2.65},{"t":39.4,"h":2.67},{"t":39.6,"h":2.7},{"t":39.8,"h":2.68},{"t":40.0,"h":2.7},{"t":40.2,"h":2.72},{"t":40.4,"h":2.69},{"t":40.6,"h":2.68},{"t":40.8,"h":2.65},{"t":41.0,"h":2.67},
      {"t":41.2,"h":2.7},{"t":41.4,"h":2.73},{"t":41.6,"h":2.75},{"t":41.8,"h":2.72},{"t":42.0,"h":2.66},{"t":42.2,"h":2.62},{"t":42.4,"h":2.64},{"t":42.6,"h":2.62},{"t":42.8,"h":2.65},{"t":43.0,"h":2.61},
      {"t":43.2,"h":2.59},{"t":43.4,"h":2.62},{"t":43.6,"h":2.65},{"t":43.8,"h":2.6},{"t":44.0,"h":2.55},{"t":44.2,"h":2.58},{"t":44.4,"h":2.61},{"t":44.6,"h":2.64},{"t":44.8,"h":2.67},{"t":45.0,"h":2.7},
      {"t":45.2,"h":2.72},{"t":45.4,"h":2.74},{"t":45.6,"h":2.77},{"t":45.8,"h":2.8},{"t":46.0,"h":2.75},{"t":46.2,"h":2.73},{"t":46.4,"h":2.69},{"t":46.6,"h":2.67},{"t":46.8,"h":2.7},{"t":47.0,"h":2.72},
      {"t":47.2,"h":2.74},{"t":47.4,"h":2.8},{"t":47.5,"h":2.82},{"t":47.7,"h":2.76},{"t":47.9,"h":2.66},{"t":48.1,"h":2.56},{"t":48.3,"h":2.48},{"t":48.5,"h":2.44},{"t":48.7,"h":2.42},{"t":48.9,"h":2.44},
      {"t":49.1,"h":2.4},{"t":49.3,"h":2.36},{"t":49.5,"h":2.33},{"t":49.6,"h":2.31},{"t":49.7,"h":2.44},{"t":49.85,"h":2.5},{"t":50.0,"h":2.56}
    ],
    "cap": [
      {"line":1,"part":"b","txt":"Figure 3."},
      {"line":1,"part":"r1","txt":"For the Dyson-Brownian random walk, (a) trajectories of eigenvalues of a random unitary operator and (b) the"},
      {"line":2,"part":"r","txt":"Shannon entropy H(|ψ⟩) of a quantum state are plotted. Here, we take 20 × 20 random Hamiltonian matrices, i.e. N = 20 and"},
      {"line":3,"part":"r","txt":"the time step δt = 0.01. In (b) the red dotted horizontal line represents the Shannon entropy of a random quantum state,"},
      {"line":4,"part":"r","txt":"ln N − 1 + γ ≈ 2.573 for N = 20."}
    ]
  },
  "vconcat": [
    {
      "hconcat": [
        {
          "width": 434, "height": 288,
          "title": "(a) Dyson-Brownian motion",
          "layer": [
            {
              "data": {"name": "traj"},
              "transform": [{"fold": ["a","b","c","d","e","f","g","h","i","j","k","l","m","n","o","p","q","r","s","t"], "as": ["series","v"]}],
              "mark": {"type": "line", "strokeWidth": 1.5, "clip": true},
              "encoding": {
                "x": {"field": "time", "type": "quantitative", "scale": {"domain": [0, 50], "nice": false},
                      "axis": {"values": [0,10,20,30,40,50], "title": "time (dimensionless)"}},
                "y": {"field": "v", "type": "quantitative", "scale": {"domain": [-3.456, 3.456], "nice": false, "zero": false},
                      "axis": {"values": [-2,0,2], "title": "Angle θ"}},
                "color": {"field": "series", "type": "nominal", "legend": null,
                          "scale": {"domain": ["a","b","c","d","e","f","g","h","i","j","k","l","m","n","o","p","q","r","s","t"],
                                    "range": ["#1f77b4","#ff7f0e","#2ca02c","#d62728","#9467bd","#8c564b","#e377c2","#7f7f7f","#bcbd22","#17becf","#1f77b4","#ff7f0e","#2ca02c","#d62728","#9467bd","#8c564b","#e377c2","#7f7f7f","#bcbd22","#17becf"]}}
              }
            },
            {
              "data": {"name": "bands"},
              "mark": {"type": "rect"},
              "encoding": {
                "x": {"field": "t0", "type": "quantitative"}, "x2": {"field": "t1"},
                "y": {"field": "lo", "type": "quantitative"}, "y2": {"field": "hi"},
                "color": {"field": "series", "type": "nominal"}
              }
            },
            {
              "data": {"name": "spikes"},
              "mark": {"type": "rule", "strokeWidth": 1.5},
              "encoding": {
                "x": {"field": "time", "type": "quantitative"},
                "y": {"field": "lo", "type": "quantitative"}, "y2": {"field": "hi"},
                "color": {"field": "series", "type": "nominal"}
              }
            }
          ]
        },
        {
          "width": 452, "height": 288,
          "title": "(b) Shannon entropy vs time",
          "layer": [
            {
              "data": {"name": "ent"},
              "mark": {"type": "line", "color": "#1f77b4", "strokeWidth": 1.5},
              "encoding": {
                "x": {"field": "t", "type": "quantitative", "scale": {"domain": [0, 50], "nice": false},
                      "axis": {"values": [0,10,20,30,40,50], "title": "time (dimensionless)"}},
                "y": {"field": "h", "type": "quantitative", "scale": {"domain": [-0.144, 2.967], "nice": false, "zero": false},
                      "axis": {"values": [0,1,2], "title": "H(|ψ⟩)", "titleFontStyle": "italic"}}
              }
            },
            {
              "data": {"values": [{"h": 2.573}]},
              "mark": {"type": "rule", "color": "#ff0000", "strokeWidth": 1.5, "strokeDash": [5.5, 2.4]},
              "encoding": {"y": {"field": "h", "type": "quantitative"}}
            }
          ]
        }
      ],
      "spacing": 52
    },
    {
      "width": 1100, "height": 69,
      "view": {"stroke": null},
      "data": {"name": "cap"},
      "encoding": {
        "x": {"datum": 0, "type": "quantitative", "scale": {"domain": [0, 1]}, "axis": null},
        "y": {"field": "line", "type": "quantitative", "scale": {"domain": [1, 4], "reverse": true}, "axis": null},
        "text": {"field": "txt"}
      },
      "layer": [
        {"transform": [{"filter": "datum.part == 'b'"}],
         "mark": {"type": "text", "align": "left", "baseline": "middle", "font": "Liberation Serif", "fontSize": 21.5, "fontWeight": "bold", "color": "black", "dx": -93}},
        {"transform": [{"filter": "datum.part == 'r1'"}],
         "mark": {"type": "text", "align": "left", "baseline": "middle", "font": "Liberation Serif", "fontSize": 21.4, "color": "black", "dx": -2}},
        {"transform": [{"filter": "datum.part == 'r'"}],
         "mark": {"type": "text", "align": "left", "baseline": "middle", "font": "Liberation Serif", "fontSize": 22, "color": "black", "dx": -93}}
      ]
    }
  ],
  "spacing": 24
}
